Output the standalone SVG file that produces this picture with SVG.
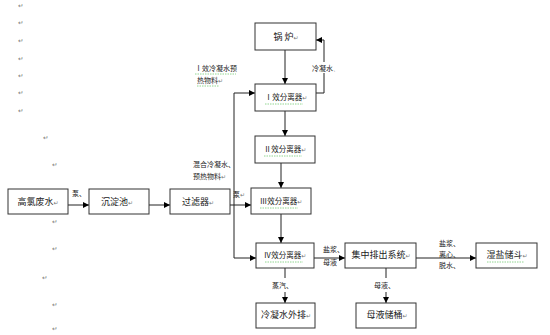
<svg xmlns="http://www.w3.org/2000/svg" width="550" height="335" viewBox="0 0 550 335">
<defs>
<marker id="ah" viewBox="0 0 10 10" refX="10" refY="5" markerWidth="6" markerHeight="6" markerUnits="userSpaceOnUse" orient="auto">
<path d="M0,0 L10,5 L0,10 z" fill="#000"/>
</marker>
<style>
.box{fill:#fff;stroke:#333;stroke-width:1}
.ln{fill:none;stroke:#222;stroke-width:1}
.ar{fill:none;stroke:#222;stroke-width:1;marker-end:url(#ah)}
text{font-family:"Noto Sans CJK SC","DejaVu Sans",sans-serif;fill:#222}
.t{font-size:9px;text-anchor:middle}
.s{font-size:7.5px;text-anchor:middle}
.l{font-size:7px}
.p{font-family:"DejaVu Sans",sans-serif;font-size:6px;fill:#777}
.pm{font-family:"DejaVu Sans",sans-serif;font-size:6.5px;fill:#777}
.u{fill:none;stroke:#7c7;stroke-width:0.8;stroke-dasharray:1.5 1}
</style>
</defs>
<rect width="550" height="335" fill="#fff"/>

<g id="para-marks">
<text class="pm" x="18" y="8">↵</text>
<text class="pm" x="18" y="25">↵</text>
<text class="pm" x="18" y="43">↵</text>
<text class="pm" x="18" y="61">↵</text>
<text class="pm" x="18" y="78">↵</text>
<text class="pm" x="18" y="95">↵</text>
<text class="pm" x="18" y="113">↵</text>
<text class="pm" x="43" y="140">↵</text>
<text class="pm" x="52" y="167">↵</text>
<text class="pm" x="52" y="224">↵</text>
<text class="pm" x="52" y="251">↵</text>
<text class="pm" x="42" y="280">↵</text>
<text class="pm" x="52" y="307">↵</text>
<text class="pm" x="52" y="331">↵</text>
</g>

<g id="connectors">
<line class="ar" x1="285" y1="50" x2="285" y2="84"/>
<polyline class="ar" points="316,93 324,93 324,40 316,40"/>
<line class="ar" x1="285" y1="111" x2="285" y2="136"/>
<line class="ar" x1="281" y1="163" x2="281" y2="188"/>
<line class="ar" x1="281" y1="214" x2="281" y2="243"/>
<line class="ln" x1="234" y1="93" x2="234" y2="258"/>
<line class="ar" x1="234" y1="93" x2="255" y2="93"/>
<line class="ar" x1="234" y1="258" x2="256" y2="258"/>
<line class="ar" x1="68" y1="205" x2="89" y2="205"/>
<line class="ar" x1="149" y1="205" x2="170" y2="205"/>
<line class="ar" x1="230" y1="205" x2="251" y2="205"/>
<line class="ar" x1="314" y1="258" x2="345" y2="258"/>
<line class="ar" x1="416" y1="258" x2="476" y2="258"/>
<line class="ln" x1="285" y1="268" x2="285" y2="278"/>
<line class="ar" x1="285" y1="292" x2="285" y2="303"/>
<line class="ln" x1="386" y1="268" x2="386" y2="278"/>
<line class="ar" x1="386" y1="292" x2="386" y2="303"/>
</g>

<g id="boiler"><rect class="box" x="255" y="23" width="61" height="27"/><text class="t" x="286" y="40">锅 炉<tspan class="p">↵</tspan></text></g>
<g id="effect1"><rect class="box" x="255" y="84" width="61" height="27"/><text class="s" x="286" y="100">Ⅰ效分离器<tspan class="p">↵</tspan></text><line class="u" x1="265" y1="104" x2="303" y2="104"/></g>
<g id="effect2"><rect class="box" x="255" y="136" width="60" height="27"/><text class="s" x="285" y="152">Ⅱ效分离器<tspan class="p">↵</tspan></text><line class="u" x1="264" y1="156" x2="302" y2="156"/></g>
<g id="effect3"><rect class="box" x="251" y="188" width="60" height="26"/><text class="s" x="281" y="204">Ⅲ效分离器<tspan class="p">↵</tspan></text><line class="u" x1="260" y1="208" x2="298" y2="208"/></g>
<g id="effect4"><rect class="box" x="256" y="243" width="58" height="25"/><text class="s" x="285" y="258">Ⅳ效分离器<tspan class="p">↵</tspan></text><line class="u" x1="265" y1="262" x2="303" y2="262"/></g>
<g id="wastewater"><rect class="box" x="8" y="189" width="60" height="25"/><text class="t" x="38" y="205">高氯废水<tspan class="p">↵</tspan></text></g>
<g id="settling"><rect class="box" x="89" y="189" width="60" height="25"/><text class="t" x="117" y="205">沉淀池<tspan class="p">↵</tspan></text></g>
<g id="filter"><rect class="box" x="170" y="189" width="60" height="25"/><text class="t" x="198" y="205">过滤器<tspan class="p">↵</tspan></text></g>
<g id="discharge"><rect class="box" x="345" y="243" width="71" height="25"/><text class="t" x="381" y="258">集中排出系统<tspan class="p">↵</tspan></text></g>
<g id="salthopper"><rect class="box" x="476" y="243" width="61" height="25"/><text class="t" x="507" y="258">湿盐储斗<tspan class="p">↵</tspan></text><line class="u" x1="487" y1="262" x2="524" y2="262"/></g>
<g id="condensate"><rect class="box" x="256" y="303" width="59" height="25"/><text class="t" x="286" y="318">冷凝水外排<tspan class="p">↵</tspan></text></g>
<g id="mothertank"><rect class="box" x="356" y="303" width="60" height="25"/><text class="t" x="387" y="318">母液储桶<tspan class="p">↵</tspan></text></g>

<g id="labels">
<text class="l" x="195" y="71">Ⅰ效冷凝水预</text><line class="u" x1="195" y1="74" x2="236" y2="74"/>
<text class="l" x="197" y="83">热物料<tspan class="p">↵</tspan></text><line class="u" x1="197" y1="86" x2="219" y2="86"/>
<rect x="311" y="62" width="27" height="11" fill="#fff"/>
<text class="l" x="312" y="71">冷凝水<tspan class="p">、</tspan></text>
<text class="l" x="193" y="167">混合冷凝水、</text>
<text class="l" x="193" y="179">预热物料<tspan class="p">↵</tspan></text>
<text class="l" x="72" y="196">泵、</text>
<text class="l" x="233" y="197" font-size="8">泵<tspan class="p">↵</tspan></text>
<text class="l" x="323" y="252">盐浆、</text>
<text class="l" x="323" y="265">母液</text>
<text class="l" x="439" y="246">盐浆、</text>
<text class="l" x="439" y="257">离心、</text>
<text class="l" x="439" y="268">脱水、</text>
<text class="l" x="272" y="288">蒸汽、</text>
<text class="l" x="374" y="288">母液、</text>
</g>
</svg>
